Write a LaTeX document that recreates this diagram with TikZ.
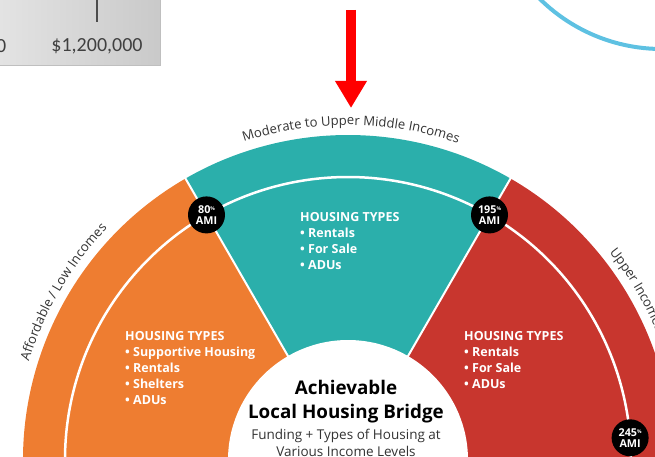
\documentclass[tikz,border=0pt]{standalone}
\usepackage{fontspec}
\setmainfont{Open Sans}
\newfontfamily\axisfont{Carlito}
\usetikzlibrary{arrows.meta,decorations.text}
\definecolor{hbOrange}{HTML}{EE7D31}
\definecolor{hbTeal}{HTML}{2BAFAB}
\definecolor{hbRed}{HTML}{C8362E}
\definecolor{hbBlue}{HTML}{5EC1E2}
\definecolor{hbArrow}{HTML}{FF0000}
\definecolor{hbText}{HTML}{333333}
\definecolor{hbAxis}{HTML}{404040}
\begin{document}
\begin{tikzpicture}[x=1pt,y=1pt,
  ami/.style={circle, fill=black, text=white, minimum size=37pt, inner sep=0pt,
    font=\bfseries\fontsize{10.8}{11}\selectfont, align=center},
  types/.style={anchor=north west, inner sep=0pt, text=white, align=left,
    font=\bfseries\fontsize{12.5}{16}\selectfont},
  divider/.style={white, line width=2pt},
  ring/.style={white, line width=2.5pt},
  axislabel/.style={font=\axisfont\fontsize{20}{22}\selectfont, text=hbAxis}]
\useasboundingbox (0,0) rectangle (655,456);
\clip (0,0) rectangle (655,456);

% chart fragment top left
\shade[left color=gray!22, right color=gray!42] (0,390) rectangle (160,456);
\draw[gray!50, line width=1pt] (0,390) -- (160,390) -- (160,456);
\coordinate (tickTop) at (97,456);
\coordinate (tickBot) at (97,434);
\draw[gray!60!black, line width=1.2pt] (tickTop) -- (tickBot);
\node[axislabel] (price) at (97,410) {\$1,200,000};
\node[axislabel, anchor=east, inner sep=0pt] (zero) at (6.5,410) {0};

% blue circle fragment top right
\draw[hbBlue, line width=4pt] (662,581) circle (174);

% red arrow
\coordinate (arrowStart) at (351,446);
\coordinate (arrowEnd) at (351,348);
\draw[hbArrow, line width=10pt, -{Triangle[width=30pt,length=27pt]}] (arrowStart) -- (arrowEnd);

% half donut
\coordinate (C) at (348,-4);
\fill[hbOrange] (C) -- ([shift={(120:325)}]C) arc (120:190:325) -- cycle;
\fill[hbTeal] (C) -- ([shift={(60:325)}]C) arc (60:120:325) -- cycle;
\fill[hbRed] (C) -- ([shift={(-10:325)}]C) arc (-10:60:325) -- cycle;
\coordinate (sepL) at ([shift={(120:326)}]C);
\coordinate (sepR) at ([shift={(60:326)}]C);
\draw[divider] (C) -- (sepL);
\draw[divider] (C) -- (sepR);
\draw[ring] ([shift={(182:283)}]C) arc (182:0:283);
\node[circle, fill=white, minimum size=240pt, inner sep=0pt] (hub) at (C) {};

% curved labels
\path[decorate, decoration={text along path, text color=hbText, text align=center,
  text={|\fontsize{13.1}{15}\selectfont|Moderate to Upper Middle Incomes}}]
  ([shift={(149.5:335)}]C) arc (149.5:29.5:335);
\path[decorate, decoration={text along path, text color=hbText, text align=center,
  text={|\fontsize{13.1}{15}\selectfont|Affordable / Low Incomes}}]
  ([shift={(175:334)}]C) arc (175:124:334);
\path[decorate, decoration={text along path, text color=hbText, text align=left,
  text={|\fontsize{13.1}{15}\selectfont|Upper Incomes}}]
  ([shift={(38.5:334)}]C) arc (38.5:-10:334);

% AMI markers
\node[ami] (ami80) at ([shift={(120:283)}]C) {80\raisebox{3pt}{\fontsize{5}{5}\selectfont\%}\\AMI};
\node[ami] (ami195) at ([shift={(60:283)}]C) {195\raisebox{3pt}{\fontsize{5}{5}\selectfont\%}\\AMI};
\node[ami] (ami245) at ([shift={(4.5:283)}]C) {245\raisebox{3pt}{\fontsize{5}{5}\selectfont\%}\\AMI};

% housing types
\node[types] (typesTeal) at (300,244) {HOUSING TYPES\\• Rentals\\• For Sale\\• ADUs};
\node[types] (typesOrange) at (125,125) {HOUSING TYPES\\• Supportive Housing\\• Rentals\\• Shelters\\• ADUs};
\node[types] (typesRed) at (464,125) {HOUSING TYPES\\• Rentals\\• For Sale\\• ADUs};

% title
\node[anchor=north, inner sep=0pt, align=center, text=black,
  font=\bfseries\fontsize{18.8}{24}\selectfont] (title) at (346,76) {Achievable\\Local Housing Bridge};
\node[anchor=north, inner sep=0pt, align=center, text=hbText,
  font=\fontsize{13.5}{17.5}\selectfont] (subtitle) at (346,27.3) {Funding + Types of Housing at\\Various Income Levels};
\end{tikzpicture}
\end{document}
